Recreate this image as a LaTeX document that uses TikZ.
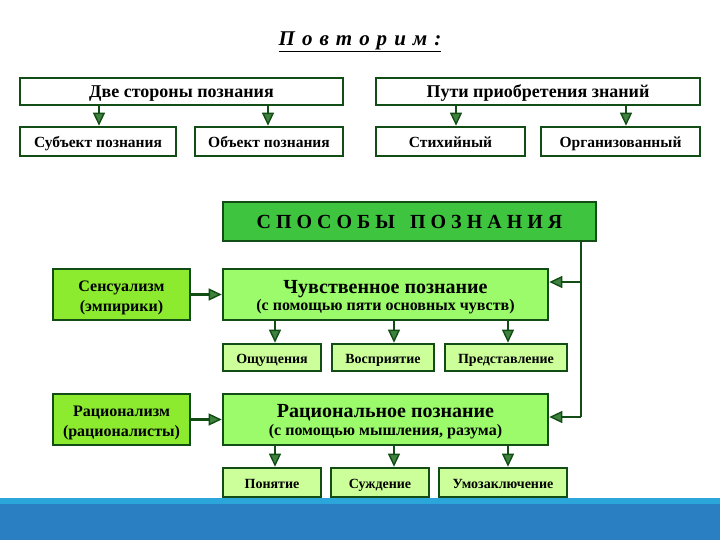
\documentclass[tikz,border=0pt]{standalone}
\usepackage{fontspec}
\setmainfont{Liberation Serif}
\usetikzlibrary{arrows.meta}
\definecolor{dgreen}{HTML}{114D14}
\definecolor{midgreen}{HTML}{3FC43F}
\definecolor{ygreen}{HTML}{8CEB2F}
\definecolor{lgreen}{HTML}{9BFB6A}
\definecolor{pgreen}{HTML}{CCFF99}
\definecolor{barlight}{HTML}{2BA6DA}
\definecolor{bardark}{HTML}{2A7FC2}
\definecolor{tipfill}{HTML}{3F823F}
\tikzset{
  box/.style={draw=dgreen, line width=2.6pt, rectangle, inner sep=0pt, align=center},
  conn/.style={draw=dgreen, line width=2.6pt, -{Triangle[length=13pt,width=12pt,fill=tipfill,line width=1.4pt]}},
  plain/.style={draw=dgreen, line width=2.6pt},
  bigtxt/.style={font=\bfseries\fontsize{18}{21}\selectfont, text height=12.8pt, text depth=0pt},
  medtxt/.style={font=\bfseries\fontsize{15.5}{18}\selectfont, text height=12.9pt, text depth=0pt},
  smalltxt/.style={font=\bfseries\fontsize{14}{16}\selectfont, text height=11.4pt, text depth=0pt},
  linetxt/.style={anchor=base, inner sep=0pt, font=\bfseries\fontsize{#1}{#1}\selectfont},
}
\begin{document}
\begin{tikzpicture}[x=1pt,y=-1pt]
\useasboundingbox (0,0) rectangle (720,540);
% bottom bar
\fill[bardark] (0,498) rectangle (720,540);
\fill[barlight] (0,498) rectangle (720,504);
% title
\node (title) at (360,42) {\bfseries\itshape\fontsize{21}{24}\selectfont\underline{П\,\,о\,\,в\,\,т\,\,о\,\,р\,\,и\,\,м\,\,:}};
% top left
\node[box, fill=white, minimum width=323pt, minimum height=27pt, bigtxt] (two) at (181.5,91.5) {Две стороны познания};
\node[box, fill=white, minimum width=156pt, minimum height=29pt, medtxt] (subj) at (98,141.5) {Субъект познания};
\node[box, fill=white, minimum width=148pt, minimum height=29pt, medtxt] (obj) at (269,141.5) {Объект познания};
\draw[conn] (two.south -| 99,0) -- (subj.north -| 99,0);
\draw[conn] (two.south -| 268,0) -- (obj.north -| 268,0);
% top right
\node[box, fill=white, minimum width=324pt, minimum height=27pt, bigtxt] (ways) at (538,91.5) {Пути приобретения знаний};
\node[box, fill=white, minimum width=149pt, minimum height=29pt, medtxt] (spont) at (450.5,141.5) {Стихийный};
\node[box, fill=white, minimum width=159pt, minimum height=29pt, medtxt] (org) at (620.5,141.5) {Организованный};
\draw[conn] (ways.south -| 456,0) -- (spont.north -| 456,0);
\draw[conn] (ways.south -| 626,0) -- (org.north -| 626,0);
% main
\node[box, fill=midgreen, minimum width=373pt, minimum height=39pt, font=\bfseries\fontsize{20}{22}\selectfont, text height=14.2pt, text depth=0pt] (meth) at (409.5,221.5) {С П О С О Б Ы \ \ П О З Н А Н И Я};
% sensory
\node[box, fill=ygreen, minimum width=137pt, minimum height=51pt] (sens) at (121.5,294.5) {};
\node[linetxt=16] (sensA) at (121.5,291.7) {Сенсуализм};
\node[linetxt=16] (sensB) at (121.5,311.8) {(эмпирики)};
\node[box, fill=lgreen, minimum width=325pt, minimum height=51pt] (feel) at (385.5,294.5) {};
\node[linetxt=20] (feelA) at (385.5,293.3) {Чувственное познание};
\node[linetxt=16] (feelB) at (385.5,310.7) {(с помощью пяти основных чувств)};
\node[box, fill=pgreen, minimum width=98pt, minimum height=27pt, smalltxt] (sen1) at (272,357.5) {Ощущения};
\node[box, fill=pgreen, minimum width=102pt, minimum height=27pt, smalltxt] (sen2) at (383,357.5) {Восприятие};
\node[box, fill=pgreen, minimum width=122pt, minimum height=27pt, smalltxt] (sen3) at (506,357.5) {Представление};
% rational
\node[box, fill=ygreen, minimum width=137pt, minimum height=51pt] (rat) at (121.5,419.5) {};
\node[linetxt=16] (ratA) at (121.5,416.5) {Рационализм};
\node[linetxt=16] (ratB) at (121.5,436.5) {(рационалисты)};
\node[box, fill=lgreen, minimum width=325pt, minimum height=51pt] (reason) at (385.5,419.5) {};
\node[linetxt=20] (reasonA) at (385.5,417.6) {Рациональное познание};
\node[linetxt=16] (reasonB) at (385.5,435.7) {(с помощью мышления, разума)};
\node[box, fill=pgreen, minimum width=98pt, minimum height=29pt, smalltxt] (r1) at (272,482.5) {Понятие};
\node[box, fill=pgreen, minimum width=98pt, minimum height=29pt, smalltxt] (r2) at (380,482.5) {Суждение};
\node[box, fill=pgreen, minimum width=128pt, minimum height=29pt, smalltxt] (r3) at (503,482.5) {Умозаключение};
% connectors
\draw[conn] (sens.east) -- (feel.west);
\draw[conn] (rat.east) -- (reason.west);
\coordinate (top) at (meth.south -| 581,0);
\coordinate (j1) at (581,282);
\coordinate (j2) at (581,417);
\draw[plain] (top) -- (j2);
\draw[conn] (j1) -- (feel.east |- j1);
\draw[conn] (j2) -- (reason.east |- j2);
\draw[conn] (feel.south -| 275,0) -- (sen1.north -| 275,0);
\draw[conn] (feel.south -| 394,0) -- (sen2.north -| 394,0);
\draw[conn] (feel.south -| 508,0) -- (sen3.north -| 508,0);
\draw[conn] (reason.south -| 275,0) -- (r1.north -| 275,0);
\draw[conn] (reason.south -| 394,0) -- (r2.north -| 394,0);
\draw[conn] (reason.south -| 508,0) -- (r3.north -| 508,0);
\end{tikzpicture}
\end{document}
